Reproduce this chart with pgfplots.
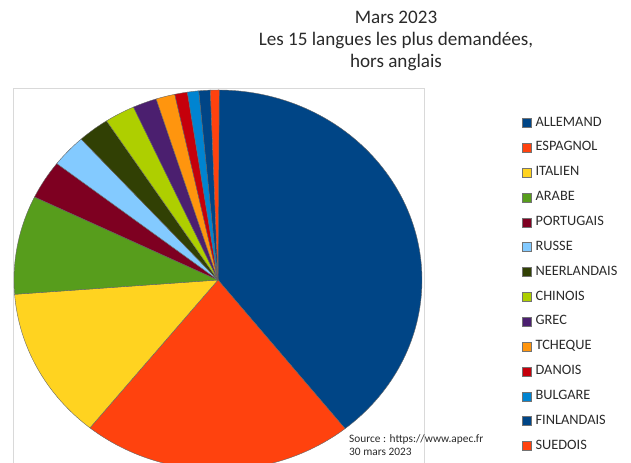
\documentclass[border=0pt]{standalone}
\usepackage{pgfplots}
\pgfplotsset{compat=1.18}
\usepackage{pgfplotstable}
\usepackage{fontspec}
\setmainfont{Carlito}

% LibreOffice default chart palette
\definecolor{cA}{HTML}{004586}
\definecolor{cB}{HTML}{FF420E}
\definecolor{cC}{HTML}{FFD320}
\definecolor{cD}{HTML}{579D1C}
\definecolor{cE}{HTML}{7E0021}
\definecolor{cF}{HTML}{83CAFF}
\definecolor{cG}{HTML}{314004}
\definecolor{cH}{HTML}{AECF00}
\definecolor{cI}{HTML}{4B1F6F}
\definecolor{cJ}{HTML}{FF950E}
\definecolor{cK}{HTML}{C5000B}
\definecolor{cL}{HTML}{0084D1}
\definecolor{txt}{HTML}{2A2A2A}

% share of each language (percent)
\pgfplotstableread{
lang        val   col
ALLEMAND    39.3  cA
ESPAGNOL    21.5  cB
ITALIEN     13.0  cC
ARABE       8.4   cD
PORTUGAIS   3.3   cE
RUSSE       2.8   cF
NEERLANDAIS 2.5   cG
CHINOIS     2.4   cH
GREC        1.9   cI
TCHEQUE     1.5   cJ
DANOIS      1.0   cK
BULGARE     0.9   cL
FINLANDAIS  0.9   cA
SUEDOIS     0.7   cB
}\langs

\begin{document}
\begin{tikzpicture}[x=1bp,y=1bp]
\clip (0,0) rectangle (631,463);
% chart area frame
\draw[black!15, line width=0.8bp] (13,-10) -- (13,375) -- (424.5,375) -- (424.5,-10);

\begin{axis}[
    at={(14bp,-7bp)}, anchor=south west,
    scale only axis,
    width=408bp, height=380bp,
    xmin=-1, xmax=1, ymin=-1, ymax=1,
    hide axis,
    clip=false,
    legend cell align=left,
    legend image code/.code={
        \draw[#1, draw=black!55, line width=0.4bp] (0bp,-4.5bp) rectangle (9bp,4.5bp);
    },
    legend style={
        at={(axis description cs:1.2451,0.9305)}, anchor=north west,
        draw=none, fill=none, inner sep=0pt,
        font=\fontsize{14.4}{16}\selectfont, text=txt,
        row sep=12.35bp,
        nodes={inner sep=0pt, text height=9.5bp, text depth=3bp},
        /tikz/every odd column/.append style={column sep=4bp},
    },
]
\def\cum{0}
\pgfplotsforeachungrouped \i in {0,...,13}{
    \pgfplotstablegetelem{\i}{val}\of\langs \let\v\pgfplotsretval
    \pgfplotstablegetelem{\i}{col}\of\langs \let\c\pgfplotsretval
    \pgfplotstablegetelem{\i}{lang}\of\langs \let\n\pgfplotsretval
    \pgfmathsetmacro\a{\cum*3.6}
    \pgfmathsetmacro\b{(\cum+\v)*3.6}
    \pgfmathtruncatemacro\ns{max(4,(\b-\a)/1.5+2)}
    \edef\cmd{%
        \noexpand\addplot[fill=\c, draw=black!60, line width=0.4bp,
            domain=\a:\b, samples=\ns]
            ({sin(x)},{cos(x)}) -- (axis cs:0,0) -- cycle;
        \noexpand\addlegendentry{\n}
    }
    \cmd
    \pgfmathsetmacro\cum{\cum+\v}
}
\end{axis}

\node[text=txt, align=center, font=\fontsize{19.2}{22}\selectfont, anchor=north]
    at (396,455) {Mars 2023\\Les 15 langues les plus demandées,\\hors anglais};
\node[text=txt, align=left, font=\fontsize{11.4}{13.5}\selectfont, anchor=north west, inner sep=0pt]
    at (349,29) {Source : https://www.apec.fr\\30 mars 2023};
\end{tikzpicture}
\end{document}
